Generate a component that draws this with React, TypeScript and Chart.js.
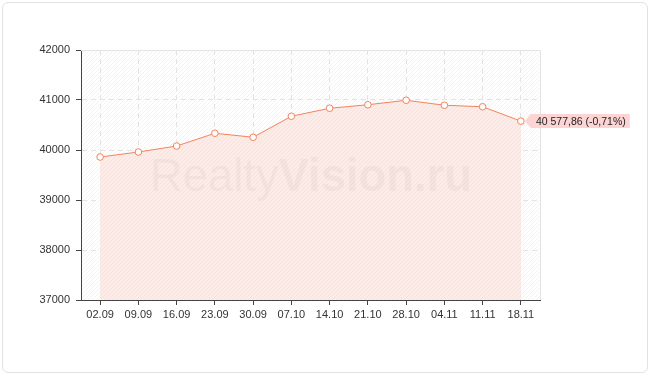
import React, { useEffect, useRef } from 'react';
import { Chart, registerables } from 'chart.js';

Chart.register(...registerables);

const categories = ['02.09', '09.09', '16.09', '23.09', '30.09', '07.10', '14.10', '21.10', '28.10', '04.11', '11.11', '18.11'];
const values = [39860, 39960, 40080, 40335, 40255, 40675, 40835, 40905, 40995, 40895, 40865, 40577.86];
const yMin = 37000;
const yMax = 42000;
const yStep = 1000;
const lastLabel = '40 577,86 (-0,71%)';
const watermarkParts = ['Realty', 'Vision.ru'];

function makeHatch(base: string, line: string, size = 4): CanvasPattern | string {
  const c = document.createElement('canvas');
  c.width = size;
  c.height = size;
  const g = c.getContext('2d');
  if (!g) return base;
  g.fillStyle = base;
  g.fillRect(0, 0, size, size);
  g.strokeStyle = line;
  g.lineWidth = 1;
  g.beginPath();
  g.moveTo(0, size);
  g.lineTo(size, 0);
  g.moveTo(-1, 1);
  g.lineTo(1, -1);
  g.moveTo(size - 1, size + 1);
  g.lineTo(size + 1, size - 1);
  g.stroke();
  const p = g.createPattern(c, 'repeat');
  return p || base;
}

export default function App() {
  const ref = useRef<HTMLCanvasElement | null>(null);

  useEffect(() => {
    const canvas = ref.current;
    if (!canvas) return;
    const bgPattern = makeHatch('#ffffff', '#f3f3f3');
    const fillPattern = makeHatch('#fcebe6', '#f8e2db');

    const bgPlugin = {
      id: 'bgHatch',
      beforeDraw(chart: any) {
        const { ctx, chartArea: a } = chart;
        ctx.save();
        ctx.fillStyle = bgPattern;
        ctx.fillRect(a.left, a.top, a.right - a.left, a.bottom - a.top);
        ctx.restore();
      },
      beforeDatasetsDraw(chart: any) {
        const { ctx, chartArea: a } = chart;
        ctx.save();
        ctx.strokeStyle = '#e4e4e4';
        ctx.lineWidth = 1;
        ctx.beginPath();
        ctx.moveTo(a.left, a.top + 0.5);
        ctx.lineTo(a.right + 0.5, a.top + 0.5);
        ctx.lineTo(a.right + 0.5, a.bottom);
        ctx.stroke();
        ctx.restore();
      },
    };

    const watermarkPlugin = {
      id: 'watermark',
      afterDatasetsDraw(chart: any) {
        const { ctx } = chart;
        const fam = '"Liberation Sans", Arial, sans-serif';
        const targetW = 322;
        ctx.save();
        ctx.font = `normal 48px ${fam}`;
        const w1 = ctx.measureText(watermarkParts[0]).width;
        ctx.font = `bold 48px ${fam}`;
        const w2 = ctx.measureText(watermarkParts[1]).width;
        const size = (48 * targetW) / (w1 + w2);
        const x0 = 150;
        const yBase = 191;
        ctx.fillStyle = 'rgba(70,60,60,0.045)';
        ctx.textBaseline = 'alphabetic';
        ctx.textAlign = 'left';
        ctx.font = `normal ${size}px ${fam}`;
        ctx.fillText(watermarkParts[0], x0, yBase);
        const ww1 = ctx.measureText(watermarkParts[0]).width;
        ctx.font = `bold ${size}px ${fam}`;
        ctx.fillText(watermarkParts[1], x0 + ww1, yBase);
        ctx.restore();
      },
    };

    const labelPlugin = {
      id: 'lastLabel',
      afterDraw(chart: any) {
        const { ctx } = chart;
        const meta = chart.getDatasetMeta(0);
        const pt = meta.data[meta.data.length - 1];
        if (!pt) return;
        const px = pt.x;
        const py = pt.y;
        ctx.save();
        ctx.font = '10.5px "Liberation Sans", Arial, sans-serif';
        const tw = ctx.measureText(lastLabel).width;
        const left = px + 10;
        const h = 14;
        const top = py - h / 2;
        const w = tw + 9;
        ctx.fillStyle = '#fdd4d4';
        ctx.beginPath();
        ctx.moveTo(px + 4, py);
        ctx.lineTo(left, top);
        ctx.lineTo(left + w, top);
        ctx.lineTo(left + w, top + h);
        ctx.lineTo(left, top + h);
        ctx.closePath();
        ctx.fill();
        ctx.fillStyle = '#222222';
        ctx.textBaseline = 'middle';
        ctx.textAlign = 'left';
        ctx.fillText(lastLabel, left + 5, py + 1);
        ctx.restore();
      },
    };

    const chart = new Chart(canvas, {
      type: 'line',
      data: {
        labels: categories,
        datasets: [
          {
            data: values,
            borderColor: '#f4845c',
            borderWidth: 1,
            backgroundColor: fillPattern as any,
            fill: 'start',
            tension: 0,
            pointRadius: 3.3,
            pointBackgroundColor: '#ffffff',
            pointBorderColor: '#f4845c',
            pointBorderWidth: 1,
          },
        ],
      },
      options: {
        animation: false,
        responsive: false,
        events: [],
        layout: { padding: { left: 0, top: 50, right: 110, bottom: 0 } },
        plugins: { legend: { display: false }, tooltip: { enabled: false }, title: { display: false } },
        scales: {
          x: {
            type: 'category',
            offset: true,
            afterFit(scale: any) {
              scale.height = 75;
            },
            grid: {
              offset: false,
              color: '#e3e3e3',
              tickColor: '#444444',
              tickLength: 5,
              tickBorderDash: [],
              drawTicks: true,
            } as any,
            border: { color: '#444444', width: 1, dash: [5, 4] } as any,
            ticks: {
              autoSkip: false,
              maxRotation: 0,
              padding: 3,
              color: '#333333',
              font: { family: '"Liberation Sans", Arial, sans-serif', size: 11 },
            },
          },
          y: {
            min: yMin,
            max: yMax,
            afterFit(scale: any) {
              scale.width = 81;
            },
            grid: {
              color: '#e3e3e3',
              tickColor: '#444444',
              tickLength: 5,
              tickBorderDash: [],
              drawTicks: true,
            } as any,
            border: { color: '#444444', width: 1, dash: [5, 4] } as any,
            ticks: {
              stepSize: yStep,
              padding: 6,
              color: '#333333',
              font: { family: '"Liberation Sans", Arial, sans-serif', size: 11 },
              callback: (v: any) => String(v),
            },
          },
        },
      },
      plugins: [bgPlugin, watermarkPlugin, labelPlugin],
    });
    return () => chart.destroy();
  }, []);

  return (
    <div style={{ position: 'fixed', left: 0, top: 0, width: 650, height: 375, background: '#ffffff' }}>
      <div
        style={{
          position: 'absolute',
          left: 2,
          top: 2,
          width: 646,
          height: 371,
          boxSizing: 'border-box',
          border: '1px solid #e2e2e2',
          borderRadius: 6,
        }}
      />
      <canvas ref={ref} width={650} height={375} style={{ position: 'absolute', left: 0, top: 0, width: 650, height: 375 }} />
    </div>
  );
}
